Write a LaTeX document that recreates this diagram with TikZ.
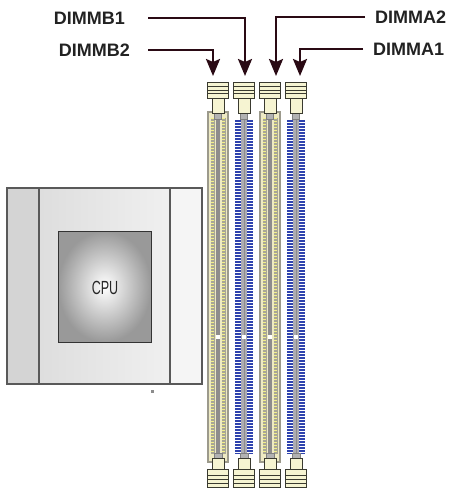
\documentclass[tikz,border=0pt]{standalone}
\usepackage{fontspec}
\setmainfont{Liberation Sans}
\usetikzlibrary{arrows.meta}

\definecolor{wire}{HTML}{2A0A14}
\definecolor{labeltext}{HTML}{222222}
\definecolor{latchfill}{HTML}{F6F4D2}
\definecolor{latchedge}{HTML}{3A3A30}
\definecolor{slotbeige}{HTML}{EEEAC4}
\definecolor{slotedge}{HTML}{9C9A8C}
\definecolor{pingray}{HTML}{A8A696}
\definecolor{keygray}{HTML}{8E8C8C}
\definecolor{keylight}{HTML}{ACACB2}
\definecolor{pinblue}{HTML}{2F43AE}

\tikzset{
  dimmlabel/.style={font=\bfseries\fontsize{18}{20}\selectfont, text=labeltext, inner sep=0pt, anchor=east},
  pointer/.style={draw=wire, line width=2.4pt, -{Stealth[length=17pt, width=14pt, inset=3pt]}},
  latch/.style={fill=latchfill, draw=latchedge, line width=1pt},
}

\begin{document}
\begin{tikzpicture}[x=1pt, y=-1pt]
    \path[use as bounding box] (0,0) rectangle (450,489);

    % CPU socket
    \fill[fill=black!17] (7,188) rectangle (39,384);
    \shade[left color=black!13, right color=black!6] (39,188) rectangle (170,384);
    \fill[fill=black!4] (170,188) rectangle (202,384);
    \draw[black!65, line width=1.3pt] (7,188) rectangle (202,384);
    \draw[black!65, line width=1.3pt] (39,188) -- (39,384) (170,188) -- (170,384);
    \shade[inner color=white, outer color=black!40] (58,231) rectangle (151,342);
    \draw[black!80, line width=1pt] (58,231) rectangle (151,342);
    \node [font=\fontsize{19}{20}\selectfont, xscale=0.66, text=black!85] (cpu) at (105,288) {CPU};
    \fill[black!45] (151,390) rectangle (153.5,392.5);

    % Slot bodies, beige
    \foreach \c in {218,270} {
      \draw[fill=slotbeige, draw=slotedge, line width=2pt] (\c-10,112) rectangle (\c+10,462);
      \foreach \dx in {-5.5,5.5} {
        \draw[pingray, line width=4pt] (\c+\dx,118) -- (\c+\dx,454);
        \draw[slotbeige!70!yellow, line width=3pt, dash pattern=on 1pt off 2pt] (\c+\dx,118) -- (\c+\dx,454);
      }
      \draw[keygray, line width=4pt] (\c,112) -- (\c,462);
      \fill[white] (\c-1.8,335) rectangle (\c+1.8,339);
    }

    % Slot bodies, blue
    \foreach \c in {244,296} {
      \foreach \dx in {-6,6} {
        \draw[pinblue, line width=5.5pt, dash pattern=on 2pt off 1pt] (\c+\dx,120) -- (\c+\dx,454);
      }
      \draw[keylight, line width=6pt] (\c,112) -- (\c,462);
      \draw[keygray, line width=1pt] (\c,112) -- (\c,462);
      \fill[white] (\c-1.8,335) rectangle (\c+1.8,339);
    }

    % Latches
    \foreach \c in {218,244,270,296} {
      % top
      \draw[fill=black!30, draw=black!50, line width=0.6pt] (\c-3.5,113) rectangle (\c+3.5,119);
      \draw[latch] (\c-6,98) rectangle (\c+6,113.5);
      \draw[latch] (\c-10.5,83) rectangle (\c+10.5,99);
      \draw[latchedge, line width=1pt] (\c-10.5,87) -- (\c+10.5,87) (\c-10.5,90.5) -- (\c+10.5,90.5) (\c-10.5,94) -- (\c+10.5,94);
      % bottom
      \draw[fill=black!30, draw=black!50, line width=0.6pt] (\c-4,453) rectangle (\c+4,459);
      \draw[latch] (\c-6,458.5) rectangle (\c+6,470);
      \draw[latch] (\c-10.5,469) rectangle (\c+10.5,487);
      \draw[latchedge, line width=1pt] (\c-10.5,475) -- (\c+10.5,475) (\c-10.5,479) -- (\c+10.5,479) (\c-10.5,483) -- (\c+10.5,483);
    }

    % Labels
    \node [dimmlabel] (lblB1) at (125,18) {DIMMB1};
    \node [dimmlabel] (lblB2) at (130,50) {DIMMB2};
    \node [dimmlabel, anchor=west] (lblA2) at (375,17) {DIMMA2};
    \node [dimmlabel, anchor=west] (lblA1) at (373,49) {DIMMA1};

    \coordinate (tipB1) at (245,76);
    \coordinate (tipB2) at (213,76);
    \coordinate (tipA2) at (276,76);
    \coordinate (tipA1) at (300,76);

    % Arrows
    \draw [pointer] ([xshift=23pt]lblB1.east) -| (tipB1);
    \draw [pointer] ([xshift=18pt]lblB2.east) -| (tipB2);
    \draw [pointer] ([xshift=-10pt]lblA2.west) -| (tipA2);
    \draw [pointer] ([xshift=-10pt]lblA1.west) -| (tipA1);

\end{tikzpicture}
\end{document}
